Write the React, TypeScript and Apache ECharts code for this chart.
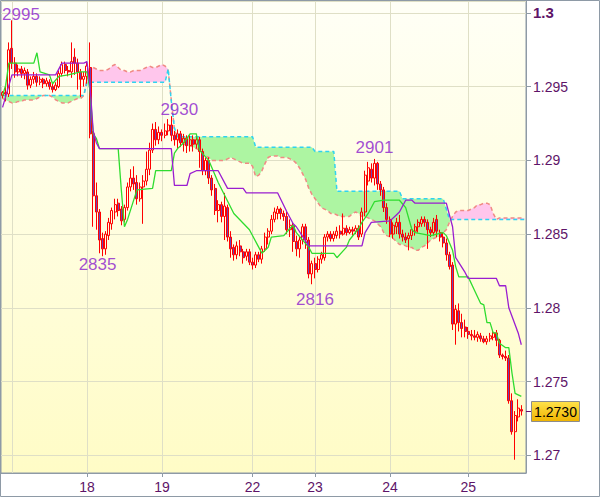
import React, { useEffect, useRef } from 'react';
import * as echarts from 'echarts';

// prices in pips: price = 1 + v / 10000
// [open, close, low, high]
const candles: number[][] = [
  [2944,2946,2942,2947],[2946,2945,2940,2950],[2945,2975,2943,2980],[2976,2966,2962,2995],[2966,2960,2956,2970],
  [2960,2962,2957,2965],[2962,2959,2956,2964],[2959,2961,2955,2963],[2960,2951,2948,2962],[2951,2955,2949,2957],
  [2955,2957,2952,2960],[2957,2953,2950,2959],[2953,2955,2951,2957],[2955,2952,2949,2956],[2952,2954,2950,2956],
  [2953,2950,2948,2955],[2950,2948,2946,2952],[2948,2951,2947,2953],[2950,2959,2949,2961],[2959,2965,2957,2967],
  [2965,2961,2959,2967],[2961,2960,2957,2964],[2960,2967,2956,2980],[2970,2966,2958,2976],[2966,2960,2948,2969],
  [2960,2955,2943,2962],[2955,2957,2950,2960],[2957,2964,2952,2967],[2963,2918,2915,2980],[2918,2876,2855,2920],
  [2876,2865,2853,2885],[2865,2846,2837,2867],[2847,2840,2835,2851],[2840,2850,2836,2852],[2849,2858,2846,2861],
  [2857,2866,2853,2868],[2865,2870,2860,2874],[2871,2866,2862,2874],[2867,2859,2856,2869],[2860,2868,2858,2870],
  [2868,2882,2866,2885],[2882,2888,2879,2894],[2888,2884,2880,2896],[2885,2874,2870,2890],[2874,2882,2872,2885],
  [2882,2886,2857,2890],[2886,2894,2883,2906],[2894,2907,2890,2912],[2907,2921,2905,2925],[2921,2914,2910,2926],
  [2914,2919,2911,2923],[2919,2917,2913,2921],[2917,2920,2915,2925],[2920,2924,2917,2928],[2924,2917,2913,2930],
  [2917,2914,2910,2920],[2914,2918,2908,2921],[2918,2912,2909,2920],[2912,2915,2906,2918],[2915,2910,2905,2917],
  [2910,2914,2906,2917],[2914,2911,2906,2917],[2911,2914,2908,2918],[2914,2906,2895,2916],[2906,2893,2890,2908],
  [2893,2900,2890,2902],[2900,2888,2884,2902],[2888,2880,2876,2890],[2881,2866,2863,2884],[2866,2870,2858,2873],
  [2870,2862,2858,2872],[2862,2869,2846,2878],[2868,2848,2845,2870],[2848,2840,2834,2852],[2841,2836,2832,2843],
  [2836,2842,2833,2845],[2842,2838,2835,2846],[2838,2834,2830,2840],[2835,2838,2832,2840],[2838,2831,2829,2840],
  [2831,2829,2826,2834],[2829,2836,2827,2838],[2836,2833,2831,2838],[2833,2840,2830,2842],[2840,2848,2838,2851],
  [2848,2852,2843,2854],[2852,2860,2850,2863],[2860,2865,2858,2868],[2864,2867,2860,2869],[2867,2864,2860,2868],
  [2864,2862,2859,2866],[2862,2853,2850,2865],[2853,2856,2848,2860],[2856,2845,2838,2858],[2845,2840,2835,2849],
  [2840,2846,2834,2848],[2846,2855,2843,2857],[2855,2846,2840,2857],[2846,2823,2820,2848],[2823,2830,2816,2832],
  [2830,2826,2820,2834],[2826,2833,2824,2835],[2833,2836,2830,2838],[2834,2848,2832,2850],[2848,2850,2845,2852],
  [2850,2847,2845,2852],[2847,2850,2845,2852],[2849,2852,2847,2855],[2852,2850,2847,2856],[2850,2854,2849,2864],
  [2854,2851,2849,2856],[2851,2853,2850,2855],[2853,2852,2849,2855],[2852,2854,2850,2856],[2854,2848,2846,2856],
  [2850,2865,2848,2868],[2865,2890,2862,2893],[2886,2895,2883,2899],[2894,2888,2885,2898],[2888,2898,2883,2901],
  [2898,2884,2880,2899],[2884,2880,2876,2886],[2880,2868,2865,2882],[2868,2860,2857,2871],[2860,2850,2848,2862],
  [2850,2856,2847,2858],[2855,2858,2850,2861],[2858,2850,2847,2863],[2850,2848,2845,2853],[2848,2846,2844,2851],
  [2847,2849,2839,2851],[2849,2853,2846,2855],[2852,2855,2849,2857],[2855,2858,2851,2860],[2857,2860,2855,2862],
  [2860,2858,2855,2862],[2858,2853,2840,2860],[2853,2851,2848,2855],[2851,2858,2849,2861],[2860,2852,2848,2863],
  [2851,2848,2845,2853],[2848,2844,2841,2851],[2844,2836,2832,2847],[2836,2828,2826,2838],[2829,2789,2785,2831],
  [2789,2799,2775,2802],[2798,2790,2784,2803],[2790,2786,2780,2796],[2787,2784,2780,2792],[2784,2782,2779,2787],
  [2782,2781,2778,2785],[2781,2780,2778,2785],[2780,2782,2777,2784],[2781,2779,2777,2783],[2779,2777,2776,2781],
  [2777,2779,2775,2781],[2779,2781,2777,2783],[2780,2783,2778,2785],[2783,2778,2774,2785],[2778,2768,2766,2779],
  [2768,2767,2765,2769],[2767,2766,2764,2771],[2766,2737,2735,2768],[2737,2716,2714,2742],[2716,2727,2697,2730],
  [2726,2732,2723,2738],[2731,2730,2727,2734]
];

// Senkou span A (salmon dashed), one value per slot
const senkouA: number[] = [
  2942,2941,2940,2939,2939,2940,2940,2941,2941,2941,
  2941,2942,2943,2944,2944,2944,2943,2941,2940,2939,
  2939,2939,2940,2941,2942,2942,2944,2955,2962,2963,
  2962,2961,2961,2961,2962,2964,2965,2963,2961,2961,
  2960,2960,2961,2961,2961,2962,2963,2964,2963,2963,
  2964,2965,2964,2961,2941,2921,2915,2912,2911,2910,
  2910,2909,2908,2907,2905,2903,2902,2900,2900,2900,
  2900,2900,2901,2902,2901,2900,2899,2898,2898,2898,
  2896,2889,2890,2893,2898,2902,2903,2903,2903,2902,
  2902,2902,2901,2900,2898,2895,2891,2887,2881,2877,
  2874,2871,2868,2867,2866,2864,2864,2863,2862,2862,
  2862,2862,2864,2865,2864,2862,2862,2861,2860,2859,
  2857,2855,2851,2849,2848,2847,2845,2843,2843,2842,
  2841,2841,2839,2839,2841,2842,2844,2846,2847,2848,
  2848,2851,2853,2858,2862,2865,2866,2866,2866,2866,
  2867,2868,2870,2870,2871,2871,2870,2864,2860,2861,
  2861,2861,2861,2861,2861,2861,2861,2861
];

// Senkou span B (cyan dashed), one value per slot
const senkouB: number[] = [
  2944,2944,2944,2944,2944,2944,2944,2944,2944,2944,
  2944,2944,2944,2944,2944,2944,2944,2944,2944,2944,
  2944,2944,2944,2944,2944,2944,2944,2953,2953,2953,
  2953,2953,2953,2953,2953,2953,2953,2953,2953,2953,
  2953,2953,2953,2953,2953,2953,2953,2953,2953,2953,
  2953,2953,2953,2962,2940,2922,2916,2916,2916,2916,
  2916,2916,2916,2916,2916,2916,2916,2916,2916,2916,
  2916,2916,2916,2916,2916,2916,2916,2916,2916,2916,
  2916,2909,2909,2909,2909,2909,2909,2909,2909,2909,
  2909,2909,2909,2909,2909,2909,2909,2909,2909,2909,
  2906,2906,2906,2906,2906,2906,2906,2879,2879,2879,
  2879,2879,2879,2879,2879,2879,2879,2879,2879,2879,
  2879,2879,2879,2879,2879,2879,2879,2879,2874,2874,
  2874,2874,2874,2874,2874,2874,2874,2874,2874,2874,
  2874,2874,2867,2860,2860,2860,2860,2860,2860,2860,
  2860,2860,2860,2860,2860,2860,2860,2860,2860,2860,
  2860,2860,2860,2860,2860,2860,2860,2860
];

// Tenkan-sen (green) vertices [slot, pips]
const tenkan: number[][] = [
  [0,2944],[1,2951],[2,2966],[10,2966],[11,2973],[12,2960],[15,2958],[16,2952],[18,2957],[21,2958],
  [25,2960],[27,2960],[28,2947],[29,2918],[30,2915],[31,2908],[37,2908],[38,2880],[39,2855],[40,2860],
  [43,2880],[48,2881],[49,2893],[54,2893],[55,2905],[56,2908],[58,2912],[60,2918],[62,2918],[63,2907],
  [66,2900],[69,2885],[74,2864],[79,2853],[82,2841],[83,2837],[85,2841],[86,2848],[90,2849],[92,2854],
  [93,2856],[94,2851],[98,2841],[99,2837],[106,2837],[107,2834],[110,2841],[111,2846],[114,2854],[115,2858],
  [117,2864],[119,2872],[122,2873],[127,2873],[129,2868],[131,2853],[132,2851],[137,2849],[141,2851],[142,2849],
  [144,2839],[145,2828],[146,2821],[149,2821],[151,2812],[153,2803],[154,2802],[155,2790],[156,2790],[157,2783],
  [158,2783],[159,2776],[161,2773],[162,2773],[163,2756],[164,2742],[165,2741],[166,2740]
];

// Kijun-sen (purple) vertices [slot, pips]
const kijun: number[][] = [
  [0,2936],[3,2958],[17,2958],[19,2966],[26,2966],[27,2967],[28,2950],[29,2920],[30,2912],[31,2908],
  [54,2908],[55,2883],[59,2883],[60,2891],[62,2893],[69,2893],[72,2881],[77,2881],[78,2878],[88,2878],
  [91,2865],[93,2857],[94,2855],[98,2842],[115,2842],[116,2851],[118,2858],[124,2859],[126,2863],[127,2865],
  [129,2873],[131,2873],[132,2871],[142,2871],[144,2855],[145,2834],[148,2824],[149,2820],[158,2820],[159,2815],
  [161,2815],[162,2800],[165,2783],[166,2775]
];

const slotCount = 168;
const dayLabels: Record<number, string> = { 27: '18', 51: '19', 80: '22', 100: '23', 124: '24', 149: '25' };
const dayLines: number[] = [3, 27, 51, 80, 100, 124, 149];
const extremes = [
  { i: 3, v: 2995, pos: 'top', off: [9, 3] },
  { i: 54, v: 2930, pos: 'top', off: [8, 2] },
  { i: 32, v: 2835, pos: 'bottom', off: [-5, -1] },
  { i: 119, v: 2901, pos: 'top', off: [0, -2] },
  { i: 99, v: 2816, pos: 'bottom', off: [3, 6] },
];
const lastPrice = 2730;
const yMin = 1.2688;
const yMax = 1.30081;

const px = (v: number) => +(1 + v / 10000).toFixed(5);
const FONT = '"Liberation Sans", Arial, sans-serif';
const AXIS_TEXT = '#5e1468';
const AXIS_LINE = '#8e9aa6';
const GRID_LINE = '#dfdfc6';
const GRID_RIGHT = 74;

export default function App() {
  const ref = useRef<HTMLDivElement>(null);

  useEffect(() => {
    document.body.style.margin = '0';
    if (!ref.current) return;
    const chart = echarts.init(ref.current, undefined, { renderer: 'svg' });

    const categories = Array.from({ length: slotCount }, (_, i) => String(i));
    const cloudLow = senkouA.map((a, i) => px(Math.min(a, senkouB[i])));
    const greenThick = senkouA.map((a, i) => +(Math.max(senkouB[i] - a, 0) / 10000).toFixed(5));
    const pinkThick = senkouA.map((a, i) => +(Math.max(a - senkouB[i], 0) / 10000).toFixed(5));

    const hidden = { opacity: 0, width: 0 };

    chart.setOption({
      animation: false,
      textStyle: { fontFamily: FONT },
      grid: {
        left: 1, right: GRID_RIGHT, top: 1, bottom: 24,
        show: true,
        borderColor: AXIS_LINE,
        borderWidth: 1,
        backgroundColor: new echarts.graphic.LinearGradient(0, 0, 0, 1, [
          { offset: 0, color: '#fffff6' },
          { offset: 1, color: '#fffcc6' },
        ]),
      },
      xAxis: {
        type: 'category',
        data: categories,
        boundaryGap: true,
        axisLine: { lineStyle: { color: AXIS_LINE } },
        axisTick: {
          show: true,
          alignWithLabel: true,
          length: 4,
          interval: (i: number) => dayLabels[i] !== undefined,
          lineStyle: { color: AXIS_LINE },
        },
        axisLabel: {
          interval: (i: number) => dayLabels[i] !== undefined,
          formatter: (_v: string, i: number) => dayLabels[i] || '',
          color: AXIS_TEXT,
          fontSize: 14,
          fontFamily: FONT,
          margin: 7,
        },
        splitLine: {
          show: true,
          alignWithLabel: true,
          interval: (i: number) => dayLines.includes(i),
          lineStyle: { color: GRID_LINE, width: 1 },
        },
      },
      yAxis: {
        type: 'value',
        position: 'right',
        min: yMin,
        max: yMax,
        splitNumber: 5,
        scale: true,
        axisLine: { show: true, lineStyle: { color: AXIS_LINE } },
        axisTick: { show: true, length: 5, lineStyle: { color: AXIS_LINE } },
        axisLabel: {
          showMinLabel: false,
          showMaxLabel: false,
          margin: 7,
          color: AXIS_TEXT,
          fontSize: 14,
          fontFamily: FONT,
          formatter: (v: number) => {
            const r = +v.toFixed(4);
            if (Math.abs(r * 1000 - Math.round(r * 1000)) > 1e-6) return '';
            const s = String(r);
            return s === '1.3' ? '{b|1.3}' : s;
          },
          rich: {
            b: { fontWeight: 'bold', fontSize: 15, color: AXIS_TEXT, fontFamily: FONT },
          },
        },
        splitLine: { show: true, lineStyle: { color: GRID_LINE, width: 1 } },
      },
      series: [
        {
          name: 'cloudBase', type: 'line', stack: 'cloud', data: cloudLow,
          symbol: 'none', lineStyle: hidden, silent: true, z: 1,
        },
        {
          name: 'cloudGreen', type: 'line', stack: 'cloud', data: greenThick,
          symbol: 'none', lineStyle: hidden, silent: true, z: 1,
          areaStyle: { color: '#adf5a2', opacity: 1 },
        },
        {
          name: 'cloudPink', type: 'line', stack: 'cloud', data: pinkThick,
          symbol: 'none', lineStyle: hidden, silent: true, z: 1,
          areaStyle: { color: '#ffc6ec', opacity: 1 },
        },
        {
          name: 'senkouA', type: 'line', data: senkouA.map(px), symbol: 'none', silent: true, z: 2,
          lineStyle: { color: '#f08a84', width: 1.5, type: [4, 3] },
        },
        {
          name: 'senkouB', type: 'line', data: senkouB.map(px), symbol: 'none', silent: true, z: 2,
          lineStyle: { color: '#2fd3f0', width: 1.5, type: [4, 3] },
        },
        {
          name: 'price', type: 'candlestick', z: 3,
          barWidth: 2.6,
          data: candles.map((c) => c.map(px)),
          itemStyle: {
            color: 'rgba(255,255,255,0)',
            borderColor: '#ff0000',
            color0: '#6b44b6',
            borderColor0: '#ff0000',
            borderWidth: 1,
          },
        },
        {
          name: 'tenkan', type: 'line', data: tenkan.map(([i, v]) => [i, px(v)]),
          symbol: 'none', silent: true, z: 4,
          lineStyle: { color: '#2fdc2f', width: 1.3 },
        },
        {
          name: 'kijun', type: 'line', data: kijun.map(([i, v]) => [i, px(v)]),
          symbol: 'none', silent: true, z: 4,
          lineStyle: { color: '#9a1ed0', width: 1.3 },
        },
        {
          name: 'extremes', type: 'scatter', z: 5, silent: true,
          symbolSize: 1,
          itemStyle: { color: 'rgba(0,0,0,0)' },
          data: extremes.map((e) => ({
            name: String(e.v),
            value: [e.i, px(e.v)],
            label: { position: e.pos, offset: e.off },
          })),
          label: {
            show: true,
            formatter: '{b}',
            color: '#8a1ccc',
            fontSize: 17,
            fontFamily: FONT,
            distance: 0,
          },
        },
      ],
    });

    // last price tag on the right axis, placed from the y scale
    const yLast = chart.convertToPixel({ yAxisIndex: 0 }, px(lastPrice)) as number;
    const axisX = chart.getWidth() - GRID_RIGHT;
    const W = chart.getWidth();
    const H = chart.getHeight();
    chart.setOption({
      graphic: [
        {
          type: 'rect',
          shape: { x: 0.5, y: 0.5, width: W - 1, height: H - 1 },
          style: { fill: 'none', stroke: AXIS_LINE, lineWidth: 1 },
          silent: true,
          z: 100,
        },
        {
          type: 'line',
          shape: { x1: axisX, y1: Math.round(yLast) + 0.5, x2: axisX + 5, y2: Math.round(yLast) + 0.5 },
          style: { stroke: '#6a1070', lineWidth: 1 },
          silent: true,
          z: 100,
        },
        {
          type: 'rect',
          shape: { x: axisX + 5.5, y: Math.round(yLast) - 9.5, width: 48, height: 20 },
          style: {
            fill: new echarts.graphic.LinearGradient(0, 0, 0, 1, [
              { offset: 0, color: '#ffe24a' },
              { offset: 1, color: '#efb300' },
            ]),
            stroke: '#8c8c8c',
            lineWidth: 1,
          },
          silent: true,
          z: 100,
        },
        {
          type: 'text',
          x: axisX + 29.5,
          y: Math.round(yLast) + 1,
          style: {
            text: px(lastPrice).toFixed(4),
            fill: '#000000',
            font: '14px ' + FONT,
            align: 'center',
            verticalAlign: 'middle',
          },
          silent: true,
          z: 101,
        },
      ],
    });

    return () => chart.dispose();
  }, []);

  return <div ref={ref} style={{ width: 600, height: 497 }} />;
}
